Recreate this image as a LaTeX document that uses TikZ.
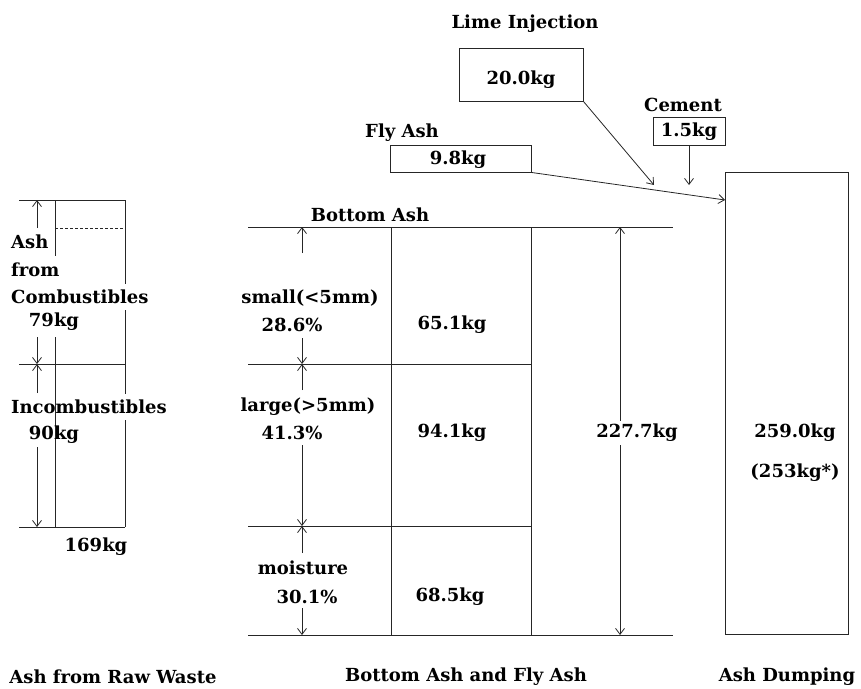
\documentclass[tikz,border=0pt]{standalone}
\usepackage{fontspec}
\setmainfont{DejaVu Serif}
\usetikzlibrary{arrows.meta}
\begin{document}
\begin{tikzpicture}[x=1pt,y=-1pt,
  ln/.style={line width=0.9pt,black!85},
  dim/.style={line width=0.8pt,black!85,-{Straight Barb[length=6pt,width=9pt]}},
  dimb/.style={line width=0.8pt,black!85,{Straight Barb[length=6pt,width=9pt]}-{Straight Barb[length=6pt,width=9pt]}},
  lbl/.style={inner sep=0pt,font=\fontsize{18}{20}\selectfont\bfseries},
  box/.style={draw,line width=0.9pt,black!85,inner sep=0pt}]
\useasboundingbox (0,0) rectangle (861,688);

% ===== Left: Ash from Raw Waste =====
\coordinate (Ltl) at (19,200); \coordinate (Ltr) at (125,200);
\coordinate (Lml) at (19,364); \coordinate (Lmr) at (125,364);
\coordinate (Lbl) at (19,527); \coordinate (Lbr) at (125,527);
\draw[ln] (Ltl) -- (Ltr);
\draw[ln] (Lml) -- (Lmr);
\draw[ln] (Lbl) -- (Lbr);
\draw[ln] (55,200) -- (55,256);
\draw[ln] (55,337) -- (55,527);
\draw[ln] (125,200) -- (125,284);
\draw[ln] (125,310) -- (125,394);
\draw[ln] (125,420) -- (125,527);
\draw[ln,dashed,dash pattern=on 3pt off 2pt] (55,228) -- (125,228);
\draw[dim] (37,228) -- (37,200);
\draw[dim] (37,337) -- (37,364);
\draw[dim] (37,393) -- (37,364);
\draw[dim] (37,447) -- (37,527);
\node[lbl,anchor=west] (ash1) at (11,242) {Ash};
\node[lbl,anchor=west] (from1) at (11,270) {from};
\node[lbl,anchor=west] (comb) at (11,297) {Combustibles};
\node[lbl] (kg79) at (54,322) {79kg};
\node[lbl,anchor=west] (incomb) at (11,407) {Incombustibles};
\node[lbl] (kg90) at (54,435) {90kg};
\node[lbl] (kg169) at (96,547) {169kg};

% ===== Middle: Bottom Ash =====
\node[lbl] (bash) at (370,215) {Bottom Ash};
\draw[ln] (248,227) -- (673,227);
\draw[ln] (248,635) -- (673,635);
\draw[ln] (248,364) -- (531,364);
\draw[ln] (248,526) -- (531,526);
\draw[ln] (391,227) -- (391,635);
\draw[ln] (531,227) -- (531,635);
\draw[dim] (302,253) -- (302,227);
\draw[dim] (302,338) -- (302,364);
\draw[dim] (302,390) -- (302,364);
\draw[dim] (302,445) -- (302,526);
\draw[dim] (302,553) -- (302,526);
\draw[dim] (302,608) -- (302,635);
\draw[dimb] (620,227) -- (620,635);
\node[lbl] (small) at (310,298) {small(<5mm)};
\node[lbl] (p286) at (292,325) {28.6\%};
\node[lbl] (kg651) at (452,325) {65.1kg};
\node[lbl] (large) at (308,407) {large(>5mm)};
\node[lbl] (p413) at (292,433) {41.3\%};
\node[lbl] (kg941) at (452,433) {94.1kg};
\node[lbl] (moist) at (303,568) {moisture};
\node[lbl] (p301) at (307,597) {30.1\%};
\node[lbl] (kg685) at (450,597) {68.5kg};
\node[lbl,fill=white,inner xsep=1pt,inner ysep=3pt] (kg2277) at (637,433) {227.7kg};

% ===== Top inputs =====
\node[lbl] (limet) at (525,24) {Lime Injection};
\node[box,minimum width=124pt,minimum height=53pt] (lime) at (521,74.5) {};
\node[lbl] (kg200) at (521,80) {20.0kg};
\node[lbl] (cemt) at (683,105) {Cement};
\node[box,minimum width=72pt,minimum height=28pt] (cem) at (689,131) {};
\node[lbl] (kg15) at (689,132) {1.5kg};
\node[lbl] (flyt) at (402,133) {Fly Ash};
\node[box,minimum width=141pt,minimum height=27pt] (fly) at (460.5,158.5) {};
\node[lbl] (kg98) at (458,160) {9.8kg};

% ===== Right: Ash Dumping =====
\node[box,minimum width=123pt,minimum height=462pt] (dump) at (786.5,403) {};
\node[lbl] (kg2590) at (795,433) {259.0kg};
\node[lbl] (kg253) at (795,473) {(253kg*)};

\coordinate (limeend) at (654,185);
\coordinate (cemend) at (689,185);
\coordinate (flyend) at (725,200);
\draw[dim] (lime.south east) -- (limeend);
\draw[dim] (cem.south) -- (cemend);
\draw[dim] (fly.south east) -- (flyend);

% ===== Bottom captions =====
\node[lbl] (cap1) at (113,677) {Ash from Raw Waste};
\node[lbl] (cap2) at (466,677) {Bottom Ash and Fly Ash};
\node[lbl] (cap3) at (787,677) {Ash Dumping};
\end{tikzpicture}
\end{document}
